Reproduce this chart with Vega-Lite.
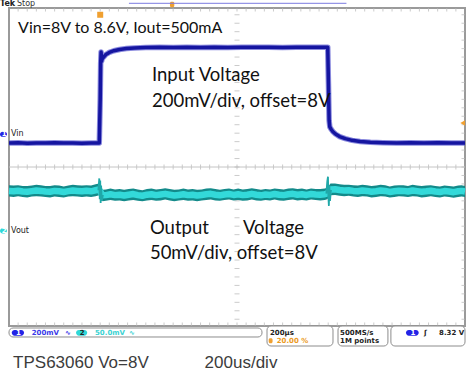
{
"$schema": "https://vega.github.io/schema/vega-lite/v6.json",
"width": 456, "height": 318,
"autosize": {"type": "none"},
"padding": {"left": 9, "top": 8, "right": 3, "bottom": 53},
"background": "#ffffff",
"config": {"view": {"stroke": "#9a9a9a", "strokeWidth": 2}},
"datasets": {
"vin": [
{"t":-400,"d":0.566},{"t":-360,"d":0.571},{"t":-320,"d":0.564},{"t":-280,"d":0.57},{"t":-240,"d":0.566},{"t":-200,"d":0.572},{"t":-160,"d":0.565},{"t":-120,"d":0.569},{"t":-80,"d":0.564},{"t":-40,"d":0.57},{"t":-4,"d":0.567},
{"t":0,"d":1.6},{"t":2,"d":2.45},{"t":4,"d":2.72},{"t":6,"d":2.5},{"t":9,"d":2.56},{"t":15,"d":2.6},{"t":25,"d":2.66},{"t":40,"d":2.71},{"t":60,"d":2.75},{"t":85,"d":2.78},{"t":115,"d":2.8},{"t":150,"d":2.815},{"t":200,"d":2.825},{"t":260,"d":2.83},{"t":320,"d":2.826},{"t":380,"d":2.832},{"t":440,"d":2.827},{"t":500,"d":2.833},{"t":560,"d":2.828},{"t":620,"d":2.834},{"t":680,"d":2.829},{"t":740,"d":2.833},{"t":800,"d":2.828},{"t":860,"d":2.834},{"t":920,"d":2.829},{"t":970,"d":2.833},{"t":998,"d":2.83},
{"t":1001,"d":2.0},{"t":1004,"d":1.1},{"t":1007,"d":0.95},{"t":1012,"d":0.9},{"t":1020,"d":0.84},{"t":1032,"d":0.78},{"t":1050,"d":0.72},{"t":1075,"d":0.67},{"t":1105,"d":0.63},{"t":1140,"d":0.605},{"t":1185,"d":0.585},{"t":1240,"d":0.575},{"t":1300,"d":0.568},{"t":1360,"d":0.572},{"t":1420,"d":0.565},{"t":1480,"d":0.571},{"t":1540,"d":0.566},{"t":1600,"d":0.57}
],
"vout": [
{"t":-400,"lo":-0.7,"m":-0.565,"hi":-0.43},{"t":-380,"lo":-0.71,"m":-0.575,"hi":-0.44},{"t":-360,"lo":-0.69,"m":-0.56,"hi":-0.43},{"t":-340,"lo":-0.71,"m":-0.58,"hi":-0.45},{"t":-320,"lo":-0.72,"m":-0.585,"hi":-0.45},{"t":-300,"lo":-0.7,"m":-0.57,"hi":-0.44},{"t":-280,"lo":-0.69,"m":-0.555,"hi":-0.42},{"t":-260,"lo":-0.7,"m":-0.565,"hi":-0.43},{"t":-240,"lo":-0.71,"m":-0.58,"hi":-0.45},{"t":-220,"lo":-0.72,"m":-0.585,"hi":-0.45},{"t":-200,"lo":-0.7,"m":-0.565,"hi":-0.43},{"t":-180,"lo":-0.71,"m":-0.575,"hi":-0.44},{"t":-160,"lo":-0.72,"m":-0.59,"hi":-0.46},{"t":-140,"lo":-0.7,"m":-0.57,"hi":-0.44},{"t":-120,"lo":-0.69,"m":-0.555,"hi":-0.42},{"t":-100,"lo":-0.7,"m":-0.565,"hi":-0.43},{"t":-80,"lo":-0.71,"m":-0.575,"hi":-0.44},{"t":-60,"lo":-0.7,"m":-0.56,"hi":-0.43},{"t":-40,"lo":-0.71,"m":-0.575,"hi":-0.44},{"t":-20,"lo":-0.69,"m":-0.55,"hi":-0.41},{"t":-5,"lo":-0.67,"m":-0.53,"hi":-0.39},
{"t":10,"lo":-0.81,"m":-0.67,"hi":-0.54},{"t":25,"lo":-0.8,"m":-0.665,"hi":-0.53},{"t":45,"lo":-0.78,"m":-0.645,"hi":-0.51},{"t":65,"lo":-0.8,"m":-0.665,"hi":-0.53},{"t":85,"lo":-0.79,"m":-0.655,"hi":-0.52},{"t":105,"lo":-0.81,"m":-0.675,"hi":-0.54},{"t":125,"lo":-0.79,"m":-0.655,"hi":-0.52},{"t":145,"lo":-0.78,"m":-0.64,"hi":-0.51},{"t":165,"lo":-0.8,"m":-0.665,"hi":-0.53},{"t":185,"lo":-0.81,"m":-0.68,"hi":-0.55},{"t":205,"lo":-0.79,"m":-0.655,"hi":-0.52},{"t":225,"lo":-0.78,"m":-0.645,"hi":-0.51},{"t":245,"lo":-0.8,"m":-0.665,"hi":-0.53},{"t":265,"lo":-0.79,"m":-0.65,"hi":-0.52},{"t":285,"lo":-0.77,"m":-0.635,"hi":-0.5},{"t":305,"lo":-0.79,"m":-0.655,"hi":-0.52},{"t":325,"lo":-0.81,"m":-0.675,"hi":-0.54},{"t":345,"lo":-0.79,"m":-0.66,"hi":-0.53},{"t":365,"lo":-0.78,"m":-0.645,"hi":-0.51},{"t":385,"lo":-0.8,"m":-0.665,"hi":-0.53},{"t":405,"lo":-0.79,"m":-0.655,"hi":-0.52},{"t":425,"lo":-0.81,"m":-0.675,"hi":-0.54},{"t":445,"lo":-0.79,"m":-0.66,"hi":-0.53},{"t":465,"lo":-0.78,"m":-0.645,"hi":-0.51},{"t":485,"lo":-0.77,"m":-0.635,"hi":-0.5},{"t":505,"lo":-0.79,"m":-0.655,"hi":-0.52},{"t":525,"lo":-0.8,"m":-0.67,"hi":-0.54},{"t":545,"lo":-0.78,"m":-0.65,"hi":-0.52},{"t":565,"lo":-0.77,"m":-0.64,"hi":-0.51},{"t":585,"lo":-0.79,"m":-0.66,"hi":-0.53},{"t":605,"lo":-0.78,"m":-0.645,"hi":-0.51},{"t":625,"lo":-0.8,"m":-0.665,"hi":-0.53},{"t":645,"lo":-0.79,"m":-0.655,"hi":-0.52},{"t":665,"lo":-0.77,"m":-0.635,"hi":-0.5},{"t":685,"lo":-0.79,"m":-0.655,"hi":-0.52},{"t":705,"lo":-0.8,"m":-0.67,"hi":-0.54},{"t":725,"lo":-0.78,"m":-0.65,"hi":-0.52},{"t":745,"lo":-0.79,"m":-0.66,"hi":-0.53},{"t":765,"lo":-0.77,"m":-0.64,"hi":-0.51},{"t":785,"lo":-0.79,"m":-0.655,"hi":-0.52},{"t":805,"lo":-0.8,"m":-0.665,"hi":-0.53},{"t":825,"lo":-0.78,"m":-0.645,"hi":-0.51},{"t":845,"lo":-0.77,"m":-0.635,"hi":-0.5},{"t":865,"lo":-0.79,"m":-0.655,"hi":-0.52},{"t":885,"lo":-0.78,"m":-0.645,"hi":-0.51},{"t":905,"lo":-0.79,"m":-0.66,"hi":-0.53},{"t":925,"lo":-0.77,"m":-0.64,"hi":-0.51},{"t":945,"lo":-0.78,"m":-0.65,"hi":-0.52},{"t":965,"lo":-0.79,"m":-0.655,"hi":-0.52},{"t":985,"lo":-0.78,"m":-0.645,"hi":-0.51},{"t":996,"lo":-0.76,"m":-0.625,"hi":-0.49},
{"t":1010,"lo":-0.67,"m":-0.53,"hi":-0.39},{"t":1030,"lo":-0.66,"m":-0.525,"hi":-0.39},{"t":1050,"lo":-0.68,"m":-0.545,"hi":-0.41},{"t":1070,"lo":-0.69,"m":-0.555,"hi":-0.42},{"t":1090,"lo":-0.68,"m":-0.55,"hi":-0.42},{"t":1110,"lo":-0.7,"m":-0.565,"hi":-0.43},{"t":1130,"lo":-0.71,"m":-0.575,"hi":-0.44},{"t":1150,"lo":-0.69,"m":-0.555,"hi":-0.42},{"t":1170,"lo":-0.7,"m":-0.565,"hi":-0.43},{"t":1190,"lo":-0.72,"m":-0.585,"hi":-0.45},{"t":1210,"lo":-0.71,"m":-0.575,"hi":-0.44},{"t":1230,"lo":-0.69,"m":-0.555,"hi":-0.42},{"t":1250,"lo":-0.7,"m":-0.565,"hi":-0.43},{"t":1270,"lo":-0.72,"m":-0.59,"hi":-0.46},{"t":1290,"lo":-0.71,"m":-0.575,"hi":-0.44},{"t":1310,"lo":-0.69,"m":-0.56,"hi":-0.43},{"t":1330,"lo":-0.7,"m":-0.565,"hi":-0.43},{"t":1350,"lo":-0.71,"m":-0.58,"hi":-0.45},{"t":1370,"lo":-0.69,"m":-0.555,"hi":-0.42},{"t":1390,"lo":-0.7,"m":-0.57,"hi":-0.44},{"t":1410,"lo":-0.72,"m":-0.585,"hi":-0.45},{"t":1430,"lo":-0.71,"m":-0.575,"hi":-0.44},{"t":1450,"lo":-0.69,"m":-0.56,"hi":-0.43},{"t":1470,"lo":-0.71,"m":-0.58,"hi":-0.45},{"t":1490,"lo":-0.72,"m":-0.59,"hi":-0.46},{"t":1510,"lo":-0.7,"m":-0.57,"hi":-0.44},{"t":1530,"lo":-0.71,"m":-0.58,"hi":-0.45},{"t":1550,"lo":-0.73,"m":-0.595,"hi":-0.46},{"t":1570,"lo":-0.71,"m":-0.575,"hi":-0.44},{"t":1585,"lo":-0.7,"m":-0.565,"hi":-0.43},{"t":1600,"lo":-0.71,"m":-0.58,"hi":-0.45}
],
"vspk": [
{"k":"a","t":-8,"d":-0.55},{"k":"a","t":-4,"d":-0.27},{"k":"a","t":-2,"d":-0.76},{"k":"a","t":0,"d":-0.32},{"k":"a","t":2,"d":-0.85},{"k":"a","t":4,"d":-0.44},{"k":"a","t":7,"d":-0.8},{"k":"a","t":12,"d":-0.66},
{"k":"b","t":992,"d":-0.63},{"k":"b","t":996,"d":-0.34},{"k":"b","t":999,"d":-0.23},{"k":"b","t":1001,"d":-0.72},{"k":"b","t":1003,"d":-0.92},{"k":"b","t":1005,"d":-0.44},{"k":"b","t":1008,"d":-0.8},{"k":"b","t":1012,"d":-0.54}
],
"xminor": [{"t":-360},{"t":-320},{"t":-280},{"t":-240},{"t":-200},{"t":-160},{"t":-120},{"t":-80},{"t":-40},{"t":0},{"t":40},{"t":80},{"t":120},{"t":160},{"t":200},{"t":240},{"t":280},{"t":320},{"t":360},{"t":400},{"t":440},{"t":480},{"t":520},{"t":560},{"t":600},{"t":640},{"t":680},{"t":720},{"t":760},{"t":800},{"t":840},{"t":880},{"t":920},{"t":960},{"t":1000},{"t":1040},{"t":1080},{"t":1120},{"t":1160},{"t":1200},{"t":1240},{"t":1280},{"t":1320},{"t":1360},{"t":1400},{"t":1440},{"t":1480},{"t":1520},{"t":1560}],
"yminor": [{"d":-3.6},{"d":-3.4},{"d":-3.2},{"d":-3.0},{"d":-2.8},{"d":-2.6},{"d":-2.4},{"d":-2.2},{"d":-2.0},{"d":-1.8},{"d":-1.6},{"d":-1.4},{"d":-1.2},{"d":-1.0},{"d":-0.8},{"d":-0.6},{"d":-0.4},{"d":-0.2},{"d":0},{"d":0.2},{"d":0.4},{"d":0.6},{"d":0.8},{"d":1.0},{"d":1.2},{"d":1.4},{"d":1.6},{"d":1.8},{"d":2.0},{"d":2.2},{"d":2.4},{"d":2.6},{"d":2.8},{"d":3.0},{"d":3.2},{"d":3.4},{"d":3.6}],
"labels": [
{"g":"title","t":-360,"d":3.29,"text":"Vin=8V to 8.6V, Iout=500mA"},
{"g":"mid","t":227,"d":2.17,"text":"Input Voltage"},
{"g":"mid","t":227,"d":1.56,"text":"200mV/div, offset=8V"},
{"g":"mid","t":218,"d":-1.44,"text":"Output"},
{"g":"mid","t":626,"d":-1.44,"text":"Voltage"},
{"g":"mid","t":218,"d":-2.03,"text":"50mV/div, offset=8V"},
{"g":"foot","t":-382,"d":-4.646,"text":"TPS63060 Vo=8V"},
{"g":"foot","t":458,"d":-4.646,"text":"200us/div"},
{"g":"sblack","t":744.7,"d":-3.925,"text":"200µs"},
{"g":"sblack","t":1052,"d":-3.925,"text":"500MS/s"},
{"g":"sblack","t":1052,"d":-4.107,"text":"1M points"},
{"g":"sblack","t":1420,"d":-3.925,"text":"ʃ"},
{"g":"sblack","t":1486,"d":-3.925,"text":"8.32 V"},
{"g":"sblack","t":-90,"d":-3.925,"text":"2"},
{"g":"sblue","t":-300.4,"d":-3.925,"text":"200mV"},
{"g":"sblue","t":-154,"d":-3.925,"text":"∿"},
{"g":"scyan","t":-22.8,"d":-3.925,"text":"50.0mV"},
{"g":"scyan","t":126,"d":-3.925,"text":"∿"},
{"g":"sorange","t":774,"d":-4.107,"text":"20.00 %"},
{"g":"swhite","t":-369,"d":-3.925,"text":"1"},
{"g":"swhite","t":1361,"d":-3.925,"text":"1"},
{"g":"swhite","t":-432,"d":0.775,"text":"1"},
{"g":"swhite","t":-432,"d":-1.51,"text":"2"},
{"g":"tekb","t":-439.5,"d":3.86,"text":"Tek"},
{"g":"tek","t":-365,"d":3.86,"text":"Stop"},
{"g":"ch","t":-391,"d":0.78,"text":"Vin"},
{"g":"ch","t":-391,"d":-1.51,"text":"Vout"}
],
"boxes": [
{"t":-400,"t2":709.6,"d":-3.807,"d2":-4.02},
{"t":731.6,"t2":1021,"d":-3.76,"d2":-4.233},
{"t":1043,"t2":1262,"d":-3.76,"d2":-4.233},
{"t":1275,"t2":1600,"d":-3.76,"d2":-4.233}
],
"bluetags": [
{"t":-388,"t2":-334,"d":-3.854,"d2":-3.989},
{"t":1341,"t2":1397,"d":-3.854,"d2":-3.989},
{"t":-439.5,"t2":-408.8,"d":0.835,"d2":0.716}
],
"cyantags": [
{"t":-106,"t2":-57,"d":-3.854,"d2":-3.989},
{"t":-439.5,"t2":-408.8,"d":-1.45,"d2":-1.57}
],
"orangetags": [
{"t":306,"t2":325,"d":3.909,"d2":3.776},
{"t":739,"t2":756,"d":-4.05,"d2":-4.17}
],
"orangepts": [{"t":0,"d":3.6}],
"trig": [{"t":1590,"d":1.04}],
"recbar": [{"t":126,"t2":1080,"d":3.871}]
},
"layer": [
{"data":{"name":"xminor"},"mark":{"type":"tick","orient":"vertical","size":5,"thickness":1,"color":"#b5b5b5"},
 "encoding":{
  "x":{"field":"t","type":"quantitative","scale":{"domain":[-400,1600],"nice":false,"zero":false},
   "axis":{"values":[-200,0,200,400,600,800,1000,1200,1400],"grid":true,"gridColor":"#b5b5b5","gridDash":[1,7.46],"gridWidth":1,"ticks":false,"labels":false,"domain":false,"title":null}},
  "y":{"datum":0,"type":"quantitative","scale":{"domain":[-3.76,3.76],"nice":false,"zero":false},
   "axis":{"values":[-3,-2,-1,1,2,3],"grid":true,"gridColor":"#b5b5b5","gridDash":[1,8.14],"gridWidth":1,"ticks":false,"labels":false,"domain":false,"title":null}}}},
{"data":{"values":[{"t":-400,"t2":1600,"d":0}]},"mark":{"type":"rule","color":"#c4c4c4","strokeWidth":1},
 "encoding":{"x":{"field":"t","type":"quantitative","scale":{"domain":[-400,1600],"nice":false,"zero":false},"axis":null},"x2":{"field":"t2"},
  "y":{"field":"d","type":"quantitative","scale":{"domain":[-3.76,3.76],"nice":false,"zero":false},"axis":null}}},
{"data":{"name":"xminor"},"mark":{"type":"tick","orient":"vertical","size":7,"thickness":1,"color":"#b5b5b5","clip":true},
 "encoding":{"x":{"field":"t","type":"quantitative","scale":{"domain":[-400,1600],"nice":false,"zero":false},"axis":null},
  "y":{"datum":3.76,"type":"quantitative","scale":{"domain":[-3.76,3.76],"nice":false,"zero":false},"axis":null}}},
{"data":{"name":"xminor"},"mark":{"type":"tick","orient":"vertical","size":7,"thickness":1,"color":"#b5b5b5","clip":true},
 "encoding":{"x":{"field":"t","type":"quantitative","scale":{"domain":[-400,1600],"nice":false,"zero":false},"axis":null},
  "y":{"datum":-3.76,"type":"quantitative","scale":{"domain":[-3.76,3.76],"nice":false,"zero":false},"axis":null}}},
{"data":{"name":"yminor"},"mark":{"type":"tick","orient":"horizontal","size":5,"thickness":1,"color":"#b5b5b5"},
 "encoding":{"x":{"datum":600,"type":"quantitative","scale":{"domain":[-400,1600],"nice":false,"zero":false},"axis":null},
  "y":{"field":"d","type":"quantitative","scale":{"domain":[-3.76,3.76],"nice":false,"zero":false},"axis":null}}},
{"data":{"name":"yminor"},"mark":{"type":"tick","orient":"horizontal","size":7,"thickness":1,"color":"#b5b5b5","clip":true},
 "encoding":{"x":{"datum":1600,"type":"quantitative","scale":{"domain":[-400,1600],"nice":false,"zero":false},"axis":null},
  "y":{"field":"d","type":"quantitative","scale":{"domain":[-3.76,3.76],"nice":false,"zero":false},"axis":null}}},
{"data":{"name":"vout"},"mark":{"type":"area","color":"#138a8a","opacity":1},
 "encoding":{"x":{"field":"t","type":"quantitative","scale":{"domain":[-400,1600],"nice":false,"zero":false},"axis":null},
  "y":{"field":"lo","type":"quantitative","scale":{"domain":[-3.76,3.76],"nice":false,"zero":false},"axis":null},"y2":{"field":"hi"}}},
{"data":{"name":"vout"},"mark":{"type":"line","color":"#33d9d9","strokeWidth":6.5,"strokeJoin":"round"},
 "encoding":{"x":{"field":"t","type":"quantitative","scale":{"domain":[-400,1600],"nice":false,"zero":false},"axis":null},
  "y":{"field":"m","type":"quantitative","scale":{"domain":[-3.76,3.76],"nice":false,"zero":false},"axis":null}}},
{"data":{"name":"vspk"},"mark":{"type":"line","color":"#1fa8a8","strokeWidth":1.8},
 "encoding":{"x":{"field":"t","type":"quantitative","scale":{"domain":[-400,1600],"nice":false,"zero":false},"axis":null},
  "y":{"field":"d","type":"quantitative","scale":{"domain":[-3.76,3.76],"nice":false,"zero":false},"axis":null},"detail":{"field":"k"}}},
{"data":{"name":"vin"},"mark":{"type":"line","color":"#5a5ad0","strokeWidth":5.5,"opacity":0.7,"strokeJoin":"round","strokeCap":"butt"},
 "encoding":{"x":{"field":"t","type":"quantitative","scale":{"domain":[-400,1600],"nice":false,"zero":false},"axis":null},
  "y":{"field":"d","type":"quantitative","scale":{"domain":[-3.76,3.76],"nice":false,"zero":false},"axis":null}}},
{"data":{"name":"vin"},"mark":{"type":"line","color":"#1515a0","strokeWidth":3.5,"strokeJoin":"round","strokeCap":"butt"},
 "encoding":{"x":{"field":"t","type":"quantitative","scale":{"domain":[-400,1600],"nice":false,"zero":false},"axis":null},
  "y":{"field":"d","type":"quantitative","scale":{"domain":[-3.76,3.76],"nice":false,"zero":false},"axis":null}}},
{"data":{"name":"boxes"},"mark":{"type":"rect","fill":"#ffffff","stroke":"#8c8c8c","strokeWidth":1,"cornerRadius":4},
 "encoding":{"x":{"field":"t","type":"quantitative","scale":{"domain":[-400,1600],"nice":false,"zero":false},"axis":null},"x2":{"field":"t2"},
  "y":{"field":"d","type":"quantitative","scale":{"domain":[-3.76,3.76],"nice":false,"zero":false},"axis":null},"y2":{"field":"d2"}}},
{"data":{"name":"bluetags"},"mark":{"type":"rect","fill":"#2323e6","cornerRadius":3},
 "encoding":{"x":{"field":"t","type":"quantitative","scale":{"domain":[-400,1600],"nice":false,"zero":false},"axis":null},"x2":{"field":"t2"},
  "y":{"field":"d","type":"quantitative","scale":{"domain":[-3.76,3.76],"nice":false,"zero":false},"axis":null},"y2":{"field":"d2"}}},
{"data":{"name":"cyantags"},"mark":{"type":"rect","fill":"#2ed8d8","cornerRadius":3},
 "encoding":{"x":{"field":"t","type":"quantitative","scale":{"domain":[-400,1600],"nice":false,"zero":false},"axis":null},"x2":{"field":"t2"},
  "y":{"field":"d","type":"quantitative","scale":{"domain":[-3.76,3.76],"nice":false,"zero":false},"axis":null},"y2":{"field":"d2"}}},
{"data":{"name":"orangetags"},"mark":{"type":"rect","fill":"#f0a030","cornerRadius":1.5},
 "encoding":{"x":{"field":"t","type":"quantitative","scale":{"domain":[-400,1600],"nice":false,"zero":false},"axis":null},"x2":{"field":"t2"},
  "y":{"field":"d","type":"quantitative","scale":{"domain":[-3.76,3.76],"nice":false,"zero":false},"axis":null},"y2":{"field":"d2"}}},
{"data":{"name":"orangepts"},"mark":{"type":"point","shape":"square","filled":true,"opacity":1,"color":"#f0a030","size":36},
 "encoding":{"x":{"field":"t","type":"quantitative","scale":{"domain":[-400,1600],"nice":false,"zero":false},"axis":null},
  "y":{"field":"d","type":"quantitative","scale":{"domain":[-3.76,3.76],"nice":false,"zero":false},"axis":null}}},
{"data":{"name":"trig"},"mark":{"type":"point","shape":"triangle-left","filled":true,"opacity":1,"color":"#f0a030","size":30},
 "encoding":{"x":{"field":"t","type":"quantitative","scale":{"domain":[-400,1600],"nice":false,"zero":false},"axis":null},
  "y":{"field":"d","type":"quantitative","scale":{"domain":[-3.76,3.76],"nice":false,"zero":false},"axis":null}}},
{"data":{"name":"recbar"},"mark":{"type":"rule","color":"#7b7be0","strokeWidth":1},
 "encoding":{"x":{"field":"t","type":"quantitative","scale":{"domain":[-400,1600],"nice":false,"zero":false},"axis":null},"x2":{"field":"t2"},
  "y":{"field":"d","type":"quantitative","scale":{"domain":[-3.76,3.76],"nice":false,"zero":false},"axis":null}}},
{"data":{"name":"labels"},"transform":[{"filter":"datum.g === 'title'"}],"mark":{"type":"text","align":"left","baseline":"middle","font":"Lato","fontSize":16,"color":"#111111"},
 "encoding":{"x":{"field":"t","type":"quantitative","scale":{"domain":[-400,1600],"nice":false,"zero":false},"axis":null},
  "y":{"field":"d","type":"quantitative","scale":{"domain":[-3.76,3.76],"nice":false,"zero":false},"axis":null},"text":{"field":"text"}}},
{"data":{"name":"labels"},"transform":[{"filter":"datum.g === 'mid'"}],"mark":{"type":"text","align":"left","baseline":"middle","font":"Lato","fontSize":18.5,"color":"#111111"},
 "encoding":{"x":{"field":"t","type":"quantitative","scale":{"domain":[-400,1600],"nice":false,"zero":false},"axis":null},
  "y":{"field":"d","type":"quantitative","scale":{"domain":[-3.76,3.76],"nice":false,"zero":false},"axis":null},"text":{"field":"text"}}},
{"data":{"name":"labels"},"transform":[{"filter":"datum.g === 'foot'"}],"mark":{"type":"text","align":"left","baseline":"middle","font":"Liberation Sans","fontSize":17,"color":"#3c3c3c"},
 "encoding":{"x":{"field":"t","type":"quantitative","scale":{"domain":[-400,1600],"nice":false,"zero":false},"axis":null},
  "y":{"field":"d","type":"quantitative","scale":{"domain":[-3.76,3.76],"nice":false,"zero":false},"axis":null},"text":{"field":"text"}}},
{"data":{"name":"labels"},"transform":[{"filter":"datum.g === 'sblack'"}],"mark":{"type":"text","align":"left","baseline":"middle","font":"DejaVu Sans","fontWeight":"bold","fontSize":7,"color":"#222222"},
 "encoding":{"x":{"field":"t","type":"quantitative","scale":{"domain":[-400,1600],"nice":false,"zero":false},"axis":null},
  "y":{"field":"d","type":"quantitative","scale":{"domain":[-3.76,3.76],"nice":false,"zero":false},"axis":null},"text":{"field":"text"}}},
{"data":{"name":"labels"},"transform":[{"filter":"datum.g === 'sblue'"}],"mark":{"type":"text","align":"left","baseline":"middle","font":"DejaVu Sans","fontWeight":"bold","fontSize":7,"color":"#3a3ae8"},
 "encoding":{"x":{"field":"t","type":"quantitative","scale":{"domain":[-400,1600],"nice":false,"zero":false},"axis":null},
  "y":{"field":"d","type":"quantitative","scale":{"domain":[-3.76,3.76],"nice":false,"zero":false},"axis":null},"text":{"field":"text"}}},
{"data":{"name":"labels"},"transform":[{"filter":"datum.g === 'scyan'"}],"mark":{"type":"text","align":"left","baseline":"middle","font":"DejaVu Sans","fontWeight":"bold","fontSize":7,"color":"#3cd2d2"},
 "encoding":{"x":{"field":"t","type":"quantitative","scale":{"domain":[-400,1600],"nice":false,"zero":false},"axis":null},
  "y":{"field":"d","type":"quantitative","scale":{"domain":[-3.76,3.76],"nice":false,"zero":false},"axis":null},"text":{"field":"text"}}},
{"data":{"name":"labels"},"transform":[{"filter":"datum.g === 'sorange'"}],"mark":{"type":"text","align":"left","baseline":"middle","font":"DejaVu Sans","fontWeight":"bold","fontSize":7,"color":"#eb9a1e"},
 "encoding":{"x":{"field":"t","type":"quantitative","scale":{"domain":[-400,1600],"nice":false,"zero":false},"axis":null},
  "y":{"field":"d","type":"quantitative","scale":{"domain":[-3.76,3.76],"nice":false,"zero":false},"axis":null},"text":{"field":"text"}}},
{"data":{"name":"labels"},"transform":[{"filter":"datum.g === 'swhite'"}],"mark":{"type":"text","align":"left","baseline":"middle","font":"DejaVu Sans","fontWeight":"bold","fontSize":7,"color":"#ffffff"},
 "encoding":{"x":{"field":"t","type":"quantitative","scale":{"domain":[-400,1600],"nice":false,"zero":false},"axis":null},
  "y":{"field":"d","type":"quantitative","scale":{"domain":[-3.76,3.76],"nice":false,"zero":false},"axis":null},"text":{"field":"text"}}},
{"data":{"name":"labels"},"transform":[{"filter":"datum.g === 'tekb'"}],"mark":{"type":"text","align":"left","baseline":"middle","font":"DejaVu Sans","fontWeight":"bold","fontSize":8,"color":"#222222"},
 "encoding":{"x":{"field":"t","type":"quantitative","scale":{"domain":[-400,1600],"nice":false,"zero":false},"axis":null},
  "y":{"field":"d","type":"quantitative","scale":{"domain":[-3.76,3.76],"nice":false,"zero":false},"axis":null},"text":{"field":"text"}}},
{"data":{"name":"labels"},"transform":[{"filter":"datum.g === 'tek'"}],"mark":{"type":"text","align":"left","baseline":"middle","font":"DejaVu Sans","fontSize":8,"color":"#333333"},
 "encoding":{"x":{"field":"t","type":"quantitative","scale":{"domain":[-400,1600],"nice":false,"zero":false},"axis":null},
  "y":{"field":"d","type":"quantitative","scale":{"domain":[-3.76,3.76],"nice":false,"zero":false},"axis":null},"text":{"field":"text"}}},
{"data":{"name":"labels"},"transform":[{"filter":"datum.g === 'ch'"}],"mark":{"type":"text","align":"left","baseline":"middle","font":"DejaVu Sans","fontSize":8,"color":"#222222"},
 "encoding":{"x":{"field":"t","type":"quantitative","scale":{"domain":[-400,1600],"nice":false,"zero":false},"axis":null},
  "y":{"field":"d","type":"quantitative","scale":{"domain":[-3.76,3.76],"nice":false,"zero":false},"axis":null},"text":{"field":"text"}}}
]
}
